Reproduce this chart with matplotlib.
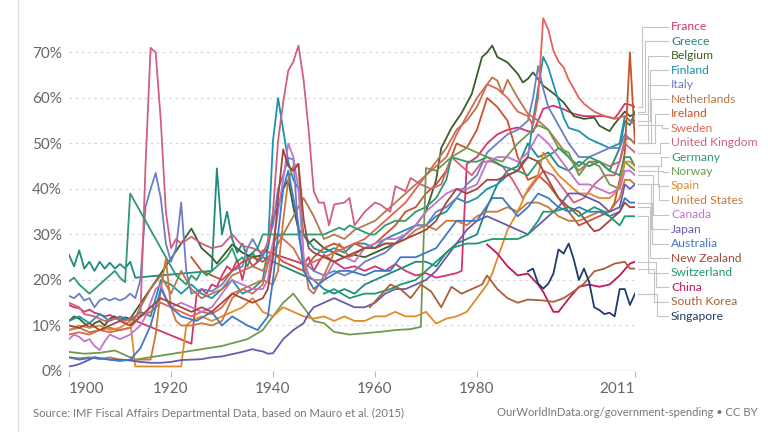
import matplotlib
matplotlib.use("Agg")
import matplotlib.pyplot as plt
from matplotlib.lines import Line2D

plt.rcParams['font.family'] = ['Lato', 'DejaVu Sans']

# ---- data: government expenditure, % of GDP ----
france_years = [1900, 1901, 1902, 1903, 1904, 1905, 1906, 1907, 1908, 1909, 1910, 1911, 1912, 1924, 1925, 1926,
                1927, 1928, 1929, 1930, 1931, 1932, 1933, 1934, 1935, 1936, 1937, 1938, 1946, 1947, 1948, 1949,
                1950, 1952, 1954, 1956, 1958, 1960, 1962, 1964, 1966, 1968, 1970, 1972, 1974, 1976, 1977, 1978,
                1980, 1982, 1984, 1986, 1988, 1990, 1991, 1992, 1993, 1995, 1997, 1999, 2001, 2003, 2005, 2007,
                2008, 2009, 2010, 2011]
france_vals = [14.5, 14, 13.8, 13, 13.5, 12.8, 12.5, 12, 12.3, 11.8, 11.5, 11.2, 11.5, 6, 16.5, 18,
               17, 19, 18.5, 21, 23, 22, 24.5, 20, 25, 23, 24, 26.5, 23.5, 25, 22, 24,
               25.5, 24, 22.5, 23, 22, 23, 22, 23.5, 22, 21, 21.5, 20.5, 21, 21.5, 22, 45.5,
               47, 50, 52, 53, 53.5, 52.7, 52.5, 55, 57.6, 58.3, 57.5, 56.5, 56, 56, 56, 55.5,
               57, 58.7, 58.5, 58]

greece_years = [1900, 1901, 1902, 1903, 1904, 1905, 1906, 1907, 1908, 1909, 1910, 1911, 1912, 1913, 1928, 1929,
                1930, 1931, 1932, 1933, 1934, 1935, 1936, 1937, 1938, 1948, 1950, 1952, 1954, 1956, 1958, 1960,
                1962, 1964, 1966, 1968, 1970, 1972, 1974, 1976, 1978, 1980, 1982, 1984, 1986, 1988, 1990, 1992,
                1994, 1996, 1998, 2000, 2002, 2004, 2006, 2008, 2009, 2010, 2011]
greece_vals = [25.5, 23, 26.5, 22.5, 24, 22, 24, 22.5, 23.8, 22.5, 23.5, 22.5, 24, 20.5, 22, 44.5,
               30, 35, 29, 26, 28, 25, 26, 24, 25, 20, 18, 17, 18, 17, 19, 20,
               21, 22, 23, 24, 24, 23, 26, 28, 29, 30, 36, 41, 44, 45, 50, 47,
               48, 45, 44, 46, 45, 46, 44, 49, 55, 54, 57]

belgium_years = [1900, 1901, 1902, 1903, 1904, 1905, 1906, 1907, 1908, 1909, 1910, 1911, 1912, 1924, 1926, 1928,
                 1929, 1930, 1932, 1934, 1936, 1938, 1939, 1940, 1941, 1942, 1943, 1944, 1945, 1946, 1947, 1948,
                 1950, 1952, 1954, 1956, 1958, 1960, 1962, 1964, 1966, 1968, 1970, 1972, 1973, 1975, 1977, 1979,
                 1981, 1982, 1983, 1984, 1986, 1988, 1989, 1990, 1991, 1993, 1995, 1997, 1999, 2001, 2003, 2004,
                 2006, 2007, 2009, 2010, 2011]
belgium_vals = [11, 12, 11.5, 10.5, 9.5, 10.5, 11, 10, 11.5, 12, 11, 11.8, 11.5, 31.3, 27, 25,
                23.6, 25, 27.8, 26, 25, 25.5, 27, 33.5, 36, 40, 42, 36, 31, 30, 28, 29,
                27, 26, 25, 25.5, 25, 26, 27, 28, 30, 32, 35, 42, 49, 53.4, 56.7, 60.9,
                69, 70, 71.5, 69, 67.8, 65.3, 63.4, 64.2, 65.6, 62.7, 61, 59, 56, 55.4, 55.7, 53.9,
                52.7, 54.3, 57, 56, 56.5]

finland_years = [1900, 1902, 1904, 1906, 1908, 1910, 1912, 1914, 1916, 1917, 1918, 1920, 1922, 1924, 1926, 1928,
                 1930, 1932, 1934, 1936, 1938, 1939, 1940, 1941, 1942, 1943, 1944, 1945, 1946, 1948, 1950, 1952,
                 1954, 1956, 1958, 1960, 1962, 1964, 1966, 1968, 1970, 1972, 1974, 1976, 1978, 1980, 1982, 1984,
                 1986, 1988, 1989, 1990, 1991, 1992, 1993, 1994, 1995, 1996, 1997, 1998, 2000, 2002, 2004, 2006,
                 2008, 2009, 2010, 2011]
finland_vals = [11, 12, 10.5, 12.5, 11, 12, 11, 13, 12, 16, 20, 19, 17, 19, 17, 16,
                18, 20, 17, 18, 20, 27, 50.5, 60, 53, 46, 42, 40, 30, 27, 26, 27,
                26, 28, 28, 27, 29, 30, 31, 32, 32, 34, 35, 38, 37, 38, 40, 41,
                43, 44, 46, 47, 55, 62, 69, 66.7, 63, 59.4, 55.7, 53.4, 52.7, 51, 50, 49,
                50, 56, 55, 55]

italy_years = [1900, 1901, 1902, 1903, 1904, 1905, 1906, 1907, 1908, 1909, 1910, 1911, 1912, 1913, 1914, 1915,
               1916, 1917, 1918, 1919, 1920, 1921, 1922, 1923, 1924, 1926, 1928, 1930, 1932, 1934, 1935, 1936,
               1938, 1940, 1941, 1942, 1943, 1944, 1945, 1946, 1948, 1950, 1952, 1954, 1956, 1958, 1960, 1962,
               1964, 1966, 1968, 1970, 1972, 1974, 1976, 1978, 1980, 1982, 1984, 1986, 1988, 1990, 1991, 1992,
               1993, 1994, 1996, 1998, 2000, 2002, 2004, 2006, 2008, 2009, 2010, 2011]
italy_vals = [16.5, 16, 17, 15.5, 16, 14, 15.5, 16, 15.5, 16, 15.5, 16, 17, 16, 20, 36,
              40, 43.5, 38, 28, 24, 27, 37, 22, 17, 18, 17.5, 19, 22, 23, 27, 29,
              25, 32, 40, 43, 46.8, 46.5, 30, 24, 22, 21, 22, 21, 22, 24, 25, 26,
              28, 30, 32, 32, 35, 36, 38, 41, 43, 48, 50, 52, 53, 55, 60, 67,
              62, 58, 54, 50, 47, 47, 48, 49, 49, 52, 51, 50]

netherlands_years = [1900, 1902, 1904, 1906, 1908, 1910, 1912, 1914, 1916, 1918, 1920, 1922, 1924, 1926, 1928, 1930,
                     1932, 1934, 1936, 1938, 1946, 1948, 1950, 1952, 1954, 1956, 1958, 1960, 1962, 1964, 1966, 1968,
                     1970, 1972, 1974, 1976, 1978, 1980, 1982, 1983, 1984, 1985, 1986, 1987, 1988, 1990, 1992, 1994,
                     1996, 1998, 2000, 2002, 2004, 2006, 2008, 2009, 2010, 2011]
netherlands_vals = [9, 9.5, 8.5, 9, 9.5, 9, 9.5, 14, 18, 21, 17, 22, 18, 16, 17, 18,
                    21, 22, 23, 22, 38, 34, 29, 30, 29, 31, 32, 33, 35, 37, 39, 41,
                    43, 46, 49, 53, 55, 58, 63, 64.5, 63.8, 61, 64, 62, 60, 56.5, 55, 53,
                    50, 47, 44, 46, 46, 45, 46, 51, 51, 50]

ireland_years = [1924, 1926, 1928, 1930, 1932, 1934, 1936, 1938, 1940, 1942, 1944, 1946, 1948, 1950, 1952, 1954,
                 1956, 1958, 1960, 1962, 1964, 1966, 1968, 1970, 1972, 1974, 1976, 1978, 1980, 1982, 1984, 1986,
                 1988, 1990, 1992, 1994, 1996, 1998, 2000, 2002, 2004, 2006, 2007, 2008, 2009, 2010, 2011]
ireland_vals = [25, 22, 21, 20, 22, 24, 25, 24, 26, 24, 23, 22, 25, 27, 28, 27,
                28, 27, 28, 30, 32, 35, 36, 39, 41, 44, 50, 49, 53, 60, 58, 55,
                47, 42, 43, 41, 38, 35, 32, 33, 34, 35, 37, 42, 48, 70, 50]

sweden_years = [1900, 1902, 1904, 1906, 1908, 1910, 1912, 1914, 1916, 1918, 1920, 1922, 1924, 1926, 1928, 1930,
                1932, 1934, 1936, 1938, 1940, 1941, 1942, 1943, 1944, 1945, 1946, 1948, 1950, 1952, 1954, 1956,
                1958, 1960, 1962, 1964, 1966, 1968, 1970, 1972, 1974, 1976, 1978, 1980, 1982, 1984, 1986, 1988,
                1990, 1991, 1992, 1993, 1994, 1995, 1996, 1997, 1998, 1999, 2000, 2001, 2003, 2005, 2007, 2009,
                2010, 2011]
sweden_vals = [8, 8.5, 8, 9, 8.5, 9, 9.5, 12, 13, 15, 14, 13, 12, 13, 12.5, 14,
               17, 18, 17, 19, 28, 30, 29, 28, 27, 25, 23, 24, 25, 26, 27, 28,
               29, 31, 33, 35, 37, 40, 43, 45, 47, 52, 56, 60, 63, 62, 60, 57,
               56, 54, 60, 77.5, 75, 70.4, 68, 66.7, 64, 62, 60, 58.7, 57, 56, 55.4, 56,
               55, 54]

uk_years = [1900, 1901, 1902, 1903, 1905, 1907, 1909, 1911, 1913, 1914, 1915, 1916, 1917, 1918, 1919, 1920,
            1921, 1922, 1924, 1926, 1928, 1930, 1932, 1934, 1936, 1938, 1939, 1940, 1941, 1942, 1943, 1944,
            1945, 1946, 1947, 1948, 1949, 1950, 1951, 1952, 1954, 1955, 1956, 1958, 1960, 1961, 1963, 1964,
            1966, 1967, 1969, 1971, 1973, 1975, 1977, 1979, 1981, 1983, 1985, 1987, 1989, 1991, 1993, 1995,
            1997, 1999, 2001, 2003, 2005, 2007, 2008, 2009, 2010, 2011]
uk_vals = [15, 14.5, 14, 12.5, 12, 11, 11.5, 11, 12, 12, 45, 71, 70, 55, 35, 27,
           29, 28, 29.5, 28, 27, 27.5, 30, 27.5, 27, 26, 28, 35, 50.5, 59, 66, 68,
           71.5, 64, 53, 39.5, 37, 37, 32, 36.6, 37, 38, 32, 35, 37, 36.6, 35, 40.6,
           39.5, 42.4, 41, 40, 41, 47, 45, 43, 46, 46, 45, 42, 38, 41, 44, 43,
           40, 37, 38, 41, 43, 43, 46, 50, 49, 48]

germany_years = [1900, 1901, 1902, 1903, 1904, 1905, 1906, 1907, 1908, 1909, 1910, 1911, 1912, 1921, 1922, 1923,
                 1924, 1925, 1926, 1927, 1928, 1929, 1930, 1931, 1932, 1933, 1934, 1935, 1936, 1937, 1938, 1950,
                 1951, 1952, 1953, 1954, 1955, 1956, 1957, 1958, 1959, 1960, 1962, 1964, 1966, 1968, 1970, 1972,
                 1974, 1975, 1978, 1980, 1982, 1985, 1988, 1990, 1992, 1995, 1996, 1998, 2000, 2002, 2004, 2006,
                 2008, 2009, 2010, 2011]
germany_vals = [19.7, 20.5, 19, 18, 17, 18, 19, 20, 21, 22, 20.5, 19.5, 39, 21, 20, 19,
                21, 20, 22, 21, 22, 23, 24, 25, 27, 24, 25, 23, 26, 27, 30, 30,
                30.5, 31, 31.5, 31, 32, 31.5, 31, 30.5, 30, 30, 32, 33, 33, 35, 36, 38,
                42, 47, 46, 46, 47, 45, 44, 43, 46, 48, 49, 47, 45, 47, 46, 44,
                43, 47, 47, 45]

norway_years = [1900, 1903, 1906, 1909, 1911, 1913, 1930, 1935, 1938, 1940, 1942, 1944, 1946, 1948, 1950, 1952,
                1955, 1958, 1961, 1964, 1967, 1969, 1970, 1972, 1975, 1978, 1980, 1982, 1985, 1988, 1990, 1992,
                1994, 1996, 1998, 2000, 2002, 2004, 2006, 2008, 2009, 2010, 2011]
norway_vals = [4.2, 3.8, 4, 4.5, 3.5, 2.5, 5.5, 7, 9, 12, 15, 17, 14, 11, 10.5, 8.6,
               8, 8.3, 8.6, 9, 9.2, 9.7, 44.6, 44, 47, 49, 48, 47, 46, 50, 52, 54,
               53, 49, 48, 43, 46, 45, 41, 40, 46, 45, 44]

spain_years = [1900, 1902, 1904, 1906, 1908, 1910, 1912, 1913, 1922, 1923, 1924, 1926, 1928, 1930, 1932, 1934,
               1936, 1938, 1940, 1942, 1944, 1946, 1948, 1950, 1952, 1954, 1956, 1958, 1960, 1962, 1964, 1966,
               1968, 1970, 1972, 1974, 1976, 1978, 1980, 1982, 1983, 1984, 1985, 1986, 1987, 1988, 1990, 1992,
               1993, 1994, 1996, 1998, 2000, 2002, 2004, 2006, 2007, 2008, 2009, 2010, 2011]
spain_vals = [9, 10, 9.5, 10, 9, 9.5, 11, 1, 1, 10, 11, 12, 11, 12, 13, 14,
              16, 13, 12, 14, 13, 12, 11.5, 12, 11, 12, 11, 11, 12, 12, 13, 12,
              12, 13, 10.4, 11.5, 12, 13, 16, 19, 21.4, 24.7, 27.8, 31, 33, 35, 40, 43,
              48, 46, 43, 41, 39, 39, 38, 38, 39, 41, 46, 46, 45]

us_years = [1900, 1902, 1904, 1906, 1908, 1910, 1912, 1914, 1916, 1917, 1918, 1919, 1920, 1921, 1922, 1924,
            1926, 1928, 1930, 1932, 1934, 1936, 1938, 1940, 1941, 1942, 1943, 1944, 1945, 1946, 1947, 1948,
            1950, 1952, 1953, 1955, 1958, 1960, 1962, 1964, 1966, 1968, 1970, 1972, 1974, 1976, 1978, 1980,
            1982, 1984, 1986, 1988, 1990, 1992, 1994, 1996, 1998, 2000, 2002, 2004, 2006, 2008, 2009, 2010,
            2011]
us_vals = [3, 2.8, 3, 2.6, 3, 2.5, 2.4, 2.5, 2.5, 8, 18, 24.7, 14, 11, 10, 10,
           10.5, 10, 11, 16, 18, 19, 20, 19, 22, 33, 42, 45, 45.5, 25, 18, 17,
           21, 26, 28, 25, 27, 27, 28, 28, 29, 31, 32, 31, 33, 33, 32, 34,
           35, 35, 36, 35, 37, 37, 36, 34, 33, 33, 34, 35, 35, 38, 42, 42,
           41]

canada_years = [1900, 1901, 1902, 1903, 1904, 1905, 1906, 1907, 1908, 1909, 1910, 1911, 1912, 1913, 1914, 1915,
                1916, 1917, 1918, 1919, 1920, 1922, 1924, 1926, 1928, 1930, 1932, 1934, 1936, 1938, 1939, 1940,
                1941, 1942, 1943, 1944, 1945, 1946, 1947, 1948, 1950, 1952, 1954, 1956, 1958, 1960, 1962, 1964,
                1966, 1968, 1970, 1972, 1974, 1976, 1978, 1980, 1982, 1984, 1986, 1988, 1990, 1992, 1994, 1996,
                1998, 2000, 2002, 2004, 2006, 2008, 2009, 2010, 2011]
canada_vals = [7, 8, 7.5, 6.5, 7, 5.5, 4.6, 6.5, 8, 7.5, 7, 7.5, 8, 9, 10, 12,
               15, 18, 19, 16, 14, 15, 14, 13, 14, 17, 20, 19, 18, 18, 20, 28,
               35, 42, 50, 47, 40, 25, 21, 20, 20, 24, 25, 24, 27, 28, 29, 29,
               30, 32, 35, 37, 39, 40, 40, 41, 46, 47, 47, 46, 48, 52, 50, 47,
               44, 41, 41, 40, 39, 40, 44, 44, 43]

japan_years = [1900, 1901, 1902, 1903, 1904, 1905, 1906, 1908, 1910, 1912, 1914, 1916, 1918, 1920, 1922, 1924,
               1926, 1928, 1930, 1932, 1934, 1936, 1937, 1938, 1939, 1940, 1942, 1944, 1946, 1947, 1948, 1950,
               1952, 1954, 1956, 1958, 1960, 1962, 1964, 1966, 1968, 1970, 1972, 1974, 1976, 1978, 1980, 1982,
               1984, 1986, 1988, 1990, 1992, 1994, 1996, 1998, 2000, 2002, 2004, 2006, 2008, 2009, 2010, 2011]
japan_vals = [1, 1.2, 1.5, 2, 2.5, 3, 2.8, 2.5, 2.5, 2.3, 2, 1.8, 1.8, 2, 2.4, 2.5,
              2.6, 3, 3.2, 3.7, 4.2, 4.8, 4.5, 4.3, 3.8, 3.9, 7, 9, 10.5, 12.6, 14, 15,
              16, 15, 14, 14, 15, 17, 18, 18, 19, 20, 22, 25, 28, 31, 33, 34,
              33, 32, 31, 30, 32, 34, 36, 39, 39, 38, 37, 35, 36, 41, 40, 41]

australia_years = [1900, 1902, 1905, 1908, 1910, 1912, 1914, 1916, 1918, 1920, 1922, 1925, 1928, 1930, 1932, 1935,
                   1937, 1939, 1940, 1941, 1942, 1943, 1944, 1945, 1946, 1947, 1948, 1950, 1953, 1955, 1958, 1960,
                   1963, 1965, 1968, 1970, 1972, 1974, 1976, 1978, 1980, 1983, 1985, 1988, 1990, 1992, 1994, 1996,
                   1998, 2000, 2002, 2004, 2006, 2008, 2009, 2010, 2011]
australia_vals = [3, 2.5, 3, 2.5, 2.2, 2.5, 5, 10, 18, 14, 12, 11, 13, 10, 12, 10,
                  9, 12, 20, 30, 40, 44, 38, 32, 22, 20, 18, 20, 22, 22, 21, 22,
                  22, 25, 25, 26, 27, 30, 33, 33, 33, 38, 38, 34, 36, 39, 38, 36,
                  35, 36, 35, 35, 34, 35, 38, 37, 37]

nz_years = [1900, 1902, 1904, 1906, 1908, 1910, 1912, 1914, 1916, 1918, 1920, 1922, 1924, 1926, 1928, 1930,
            1932, 1934, 1936, 1938, 1939, 1940, 1941, 1942, 1943, 1944, 1945, 1946, 1947, 1948, 1950, 1952,
            1954, 1956, 1958, 1960, 1962, 1964, 1966, 1968, 1970, 1972, 1974, 1976, 1978, 1980, 1982, 1984,
            1986, 1988, 1990, 1992, 1994, 1996, 1998, 2000, 2002, 2003, 2004, 2006, 2008, 2009, 2010, 2011]
nz_vals = [10, 9.5, 10.5, 9, 10, 11, 10, 12, 14, 16, 15, 14, 13, 14, 13, 15,
           17, 16, 15, 16, 18, 25, 38, 48.7, 45, 44, 45.5, 33.5, 27, 26, 25, 24,
           25, 26, 27, 27, 28, 28, 29, 30, 31, 33, 37, 40, 39, 40, 42, 42,
           43, 44, 47, 46, 42, 38, 36, 35, 32, 30.7, 31, 33, 35, 37, 36, 36]

switzerland_years = [1950, 1952, 1955, 1958, 1960, 1963, 1965, 1968, 1970, 1972, 1975, 1978, 1980, 1983, 1985, 1988,
                     1990, 1992, 1993, 1995, 1998, 2000, 2003, 2005, 2008, 2009, 2010, 2011]
switzerland_vals = [17, 18, 16, 17, 17, 18, 19, 20, 22, 24, 27, 28, 28, 29, 29, 29,
                    30, 33, 35, 35, 36, 34, 36, 35, 32, 34, 34, 34]

china_years = [1982, 1984, 1986, 1988, 1990, 1992, 1993, 1995, 1996, 1998, 2000, 2002, 2004, 2006, 2008, 2010, 2011]
china_vals = [27.8, 25.8, 23, 21, 21.4, 19, 17.4, 13, 13, 15.9, 18.5, 19, 18.5, 19, 21, 23.6, 24]

korea_years = [1959, 1961, 1963, 1965, 1967, 1969, 1971, 1973, 1975, 1977, 1979, 1981, 1982, 1984, 1986, 1988,
               1990, 1993, 1995, 1997, 1999, 2001, 2003, 2005, 2007, 2009, 2010, 2011]
korea_vals = [14, 16.5, 19, 18, 16, 19, 17.5, 14, 18.5, 17, 18, 19, 21, 18, 16, 15,
              15.7, 15.5, 15.2, 16, 17.5, 19.2, 21.9, 22.5, 23.6, 24, 22.5, 22.5]

singapore_years = [1990, 1991, 1992, 1993, 1994, 1995, 1996, 1997, 1998, 1999, 2000, 2001, 2002, 2003, 2004, 2005,
                   2006, 2007, 2008, 2009, 2010, 2011]
singapore_vals = [21.9, 22.5, 19.2, 18.1, 19.2, 21.4, 26.7, 25.8, 28, 24.5, 20, 22.5, 19.6, 14, 13.4, 12.5,
                  12.8, 12, 18, 18, 14.5, 17]

countries = ['France', 'Greece', 'Belgium', 'Finland', 'Italy', 'Netherlands', 'Ireland', 'Sweden',
             'United Kingdom', 'Germany', 'Norway', 'Spain', 'United States', 'Canada', 'Japan', 'Australia',
             'New Zealand', 'Switzerland', 'China', 'South Korea', 'Singapore']
series_years = [france_years, greece_years, belgium_years, finland_years, italy_years, netherlands_years,
                ireland_years, sweden_years, uk_years, germany_years, norway_years, spain_years, us_years,
                canada_years, japan_years, australia_years, nz_years, switzerland_years, china_years,
                korea_years, singapore_years]
series_vals = [france_vals, greece_vals, belgium_vals, finland_vals, italy_vals, netherlands_vals,
               ireland_vals, sweden_vals, uk_vals, germany_vals, norway_vals, spain_vals, us_vals,
               canada_vals, japan_vals, australia_vals, nz_vals, switzerland_vals, china_vals,
               korea_vals, singapore_vals]
colors = ['#d6336c', '#1f8a80', '#3b5e2b', '#1a93ad', '#6c7fc4', '#b5784a', '#c8532d', '#de6454',
          '#d0607e', '#2f9a6f', '#6f9a4e', '#e08a2c', '#c7793a', '#c274c9', '#6a5aad', '#3e78c8',
          '#a1473f', '#1f9a6a', '#c2185b', '#a8603a', '#1f3b6b']

ytick_vals = [0, 10, 20, 30, 40, 50, 60, 70]
xtick_years = [1900, 1920, 1940, 1960, 1980, 2011]

# ---- figure ----
W, H = 768, 432
fig = plt.figure(figsize=(W / 100, H / 100), dpi=100)
x0, x1, y0, y1 = 69, 635, 371, 16          # plot area in pixels
ax = fig.add_axes([x0 / W, 1 - y0 / H, (x1 - x0) / W, (y0 - y1) / H])
ax.set_xlim(1900, 2011)
ax.set_ylim(0, 78)


def px_to_year(px):
    return 1900 + (px - x0) * 111 / (x1 - x0)


def py_to_val(py):
    return (y0 - py) * 78 / (y0 - y1)


for yr, vals, c in zip(series_years, series_vals, colors):
    ax.plot(yr, vals, color=c, lw=1.3, solid_joinstyle='round', zorder=3)

for v in ytick_vals[1:]:
    ax.axhline(v, color='#d8d8d8', lw=0.9, ls=(0, (2, 3)), zorder=1)
ax.axhline(0, color='#c8c8c8', lw=1.0, zorder=2)

for s in ax.spines.values():
    s.set_visible(False)
ax.set_yticks(ytick_vals)
ax.set_yticklabels([f'{v}%' for v in ytick_vals])
ax.tick_params(axis='y', length=0, pad=5, labelsize=11, labelcolor='#666666')
ax.set_xticks(xtick_years)
ax.set_xticklabels([str(y) for y in xtick_years])
ax.tick_params(axis='x', length=4, width=0.8, color='#bbbbbb', pad=4, labelsize=11,
               labelcolor='#666666')
xl = ax.get_xticklabels()
xl[0].set_horizontalalignment('left')
xl[-1].set_horizontalalignment('right')

# ---- labels on the right with connector lines ----
label_py = [27 + i * 14.45 for i in range(len(countries))]
end_vals = [v[-1] for v in series_vals]
dys = [abs(py_to_val(lp) - ev) for lp, ev in zip(label_py, end_vals)]
maxdy = max(dys)
for name, c, lp, ev, dy in zip(countries, colors, label_py, end_vals, dys):
    ly = py_to_val(lp)
    ex = px_to_year(663 - 21 * dy / maxdy)
    ax.plot([px_to_year(638), ex, ex, px_to_year(668)], [ev, ev, ly, ly],
            color='#c4c4c4', lw=0.8, clip_on=False, zorder=1)
    ax.text(px_to_year(671), ly, name, color=c, fontsize=8.7, va='center', ha='left')

# ---- footer ----
fig.text(33 / W, 1 - 413 / H, 'Source: IMF Fiscal Affairs Departmental Data, based on Mauro et al. (2015)',
         fontsize=8.1, color='#777777', va='center', ha='left')
fig.text(758 / W, 1 - 413 / H, 'OurWorldInData.org/government-spending \u2022 CC BY',
         fontsize=8.1, color='#777777', va='center', ha='right')
fig.add_artist(Line2D([18 / W, 18 / W], [0, 1], color='#e2e2e2', lw=1.0))

fig.savefig('out.png', dpi=100)
